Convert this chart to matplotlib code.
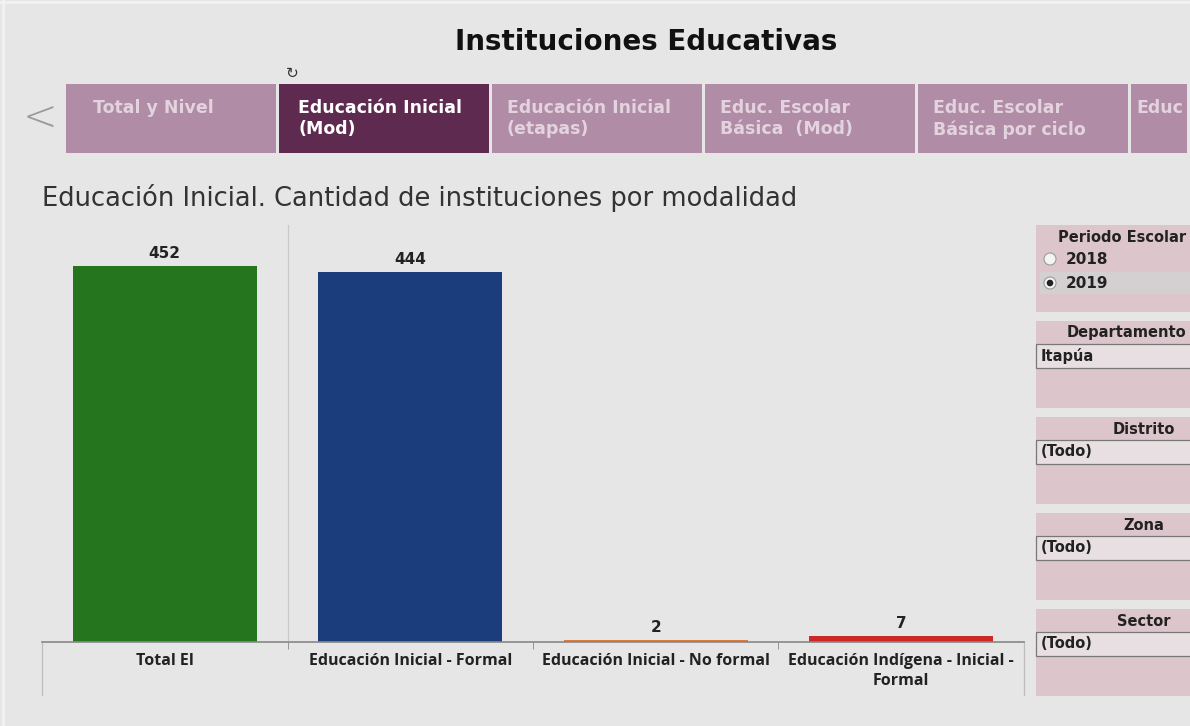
import matplotlib
matplotlib.use('Agg')
from matplotlib import pyplot as plt
from matplotlib.patches import Rectangle, Circle

plt.rcParams['font.family'] = ['Open Sans', 'DejaVu Sans']

# datos
categorias = ['Total EI', 'Educación Inicial - Formal', 'Educación Inicial - No formal',
              'Educación Indígena - Inicial -\nFormal']
valores = [452, 444, 2, 7]
colores = ['#25751f', '#1c3d7c', '#d9793a', '#cc2828']

pestanas = ['Total y Nivel', 'Educación Inicial\n(Mod)', 'Educación Inicial\n(etapas)',
            'Educ. Escolar\nBásica  (Mod)', 'Educ. Escolar\nBásica por ciclo', 'Educ']
pestana_activa = 1

filtros = ['Periodo Escolar', 'Departamento', 'Distrito', 'Zona', 'Sector']
valores_filtro = [None, 'Itapúa', '(Todo)', '(Todo)', '(Todo)']
anios = ['2018', '2019']
anio_sel = '2019'

W, H = 1190, 726
fig = plt.figure(figsize=(W / 100, H / 100), dpi=100)
fig.patch.set_facecolor('#e6e6e6')

# capa de fondo en pixeles para los adornos del dashboard
bg = fig.add_axes([0, 0, 1, 1])
bg.set_xlim(0, W)
bg.set_ylim(H, 0)
bg.axis('off')
bg.plot([0, W], [2, 2], color='#f2f2f2', lw=2)
bg.plot([3, 3], [0, H], color='#f2f2f2', lw=2)

bg.text(646, 42, 'Instituciones Educativas', ha='center', va='center',
        fontsize=20, fontweight='bold', color='#111111', family='DejaVu Sans')
bg.text(292, 73, '↻', ha='center', va='center', fontsize=11, color='#333333',
        family='DejaVu Sans')
bg.text(40, 118, '<', ha='center', va='center', fontsize=30, color='#9a9a9a',
        family='DejaVu Sans', fontweight='light')

# pestañas
x0, ancho = 66, 213
for i, t in enumerate(pestanas):
    x = x0 + i * ancho
    activa = i == pestana_activa
    bg.add_patch(Rectangle((x, 84), ancho - 3, 69,
                           color='#5f2a4f' if activa else '#b08ca6', lw=0))
    dx = 19 if activa else 15
    if i == 0:
        dx = 27
    if i == len(pestanas) - 1:
        dx = 5
    bg.text(x + dx, 99, t, ha='left', va='top', fontsize=12.5,
            fontweight='bold', color='white' if activa else '#e3d3de',
            linespacing=1.25, family='DejaVu Sans')
bg.add_patch(Rectangle((1187, 0), 3, 160, color='#e6e6e6', lw=0))

bg.text(42, 198, 'Educación Inicial. Cantidad de instituciones por modalidad',
        ha='left', va='center', fontsize=18.5, color='#333333',
        family='DejaVu Sans')

# panel de filtros
tops = [225, 321, 417, 513, 609]
for i, (f, tp) in enumerate(zip(filtros, tops)):
    bg.add_patch(Rectangle((1036, tp), 160, 87, color='#dcc6cc', lw=0))
    if len(f) > 10:
        bg.text(1186, tp + 12, f, ha='right', va='center', fontsize=10.5,
                fontweight='bold', color='#222222', family='DejaVu Sans')
    else:
        bg.text(1144, tp + 12, f, ha='center', va='center', fontsize=10.5,
                fontweight='bold', color='#222222', family='DejaVu Sans')
    if valores_filtro[i] is None:
        for j, a in enumerate(anios):
            yy = tp + 34 + j * 24
            if a == anio_sel:
                bg.add_patch(Rectangle((1040, yy - 11), 156, 22, color='#d4d0d2', lw=0))
            bg.add_patch(Circle((1050, yy), 6, facecolor='#f4f4f4',
                                edgecolor='#9a9a9a', lw=0.8))
            if a == anio_sel:
                bg.add_patch(Circle((1050, yy), 2.6, color='#222222'))
            bg.text(1066, yy, a, ha='left', va='center', fontsize=11,
                    fontweight='bold', color='#222222', family='DejaVu Sans')
    else:
        bg.add_patch(Rectangle((1036, tp + 23), 160, 24, facecolor='#e8dfe3',
                               edgecolor='#777777', lw=0.9))
        bg.text(1041, tp + 35, valores_filtro[i], ha='left', va='center',
                fontsize=10.5, fontweight='bold', color='#222222',
                family='DejaVu Sans')

# lineas de la tabla de etiquetas
bg.plot([42, 42], [642, 695], color='#bdbdbd', lw=0.9)
bg.plot([1024, 1024], [642, 695], color='#bdbdbd', lw=0.9)
bg.plot([288, 288], [225, 642], color='#c8c8c8', lw=0.9)

# grafico de barras
ax = fig.add_axes([42 / W, 1 - 642 / H, (1024 - 42) / W, (642 - 225) / H])
ax.patch.set_alpha(0)
pos = range(len(categorias))
barras = ax.bar(pos, valores, width=0.75, color=colores)
ax.set_xlim(-0.5, len(categorias) - 0.5)
ax.set_ylim(0, 501)
for b, v in zip(barras, valores):
    ax.text(b.get_x() + b.get_width() / 2, v + 6, str(v), ha='center', va='bottom',
            fontsize=11, fontweight='bold', color='#222222', family='DejaVu Sans')
ax.set_yticks([])
ax.set_xticks(list(pos))
ax.set_xticklabels(categorias, fontsize=11.5, fontweight='bold', color='#222222',
                   linespacing=1.35)
ax.set_xticks([0.5, 1.5, 2.5], minor=True)
ax.tick_params(axis='x', which='major', length=0, pad=8)
ax.tick_params(axis='x', which='minor', length=5, color='#888888')
for s in ['top', 'right', 'left']:
    ax.spines[s].set_visible(False)
ax.spines['bottom'].set_color('#888888')
ax.spines['bottom'].set_linewidth(1.2)
for lab in ax.get_xticklabels():
    lab.set_verticalalignment('top')

plt.savefig('out.png', dpi=100, facecolor=fig.get_facecolor())
